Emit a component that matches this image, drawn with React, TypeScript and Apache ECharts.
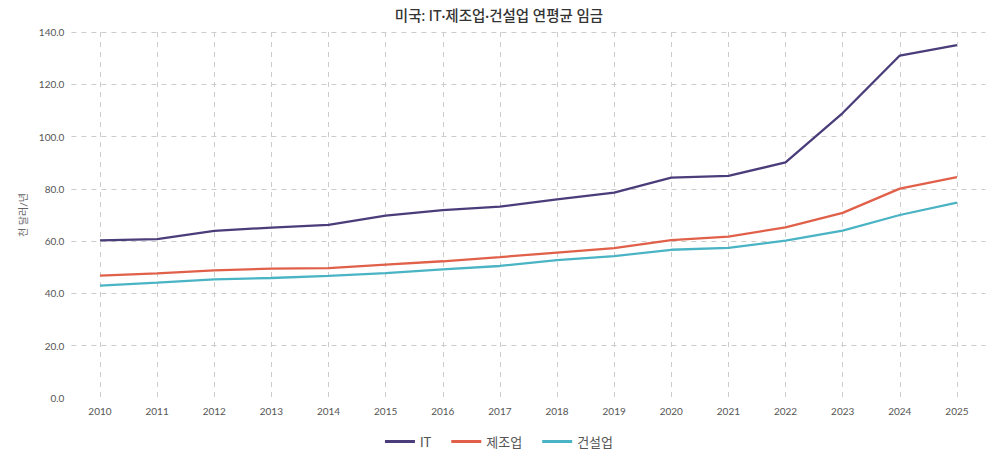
import React, { useEffect, useRef } from 'react';
import * as echarts from 'echarts';

const years = ['2010', '2011', '2012', '2013', '2014', '2015', '2016', '2017', '2018', '2019', '2020', '2021', '2022', '2023', '2024', '2025'];
const itWage = [60.3, 60.8, 63.9, 65.2, 66.2, 69.8, 71.9, 73.2, 76.0, 78.6, 84.3, 85.0, 90.1, 109.0, 131.0, 135.0];
const mfgWage = [46.8, 47.7, 48.8, 49.5, 49.7, 51.0, 52.3, 53.9, 55.6, 57.3, 60.4, 61.7, 65.3, 70.8, 80.1, 84.5];
const conWage = [43.0, 44.1, 45.4, 45.9, 46.7, 47.8, 49.2, 50.5, 52.7, 54.3, 56.7, 57.4, 60.2, 64.0, 70.0, 74.7];

const FONT = 'Lato, "Noto Sans CJK KR", sans-serif';

export default function App() {
  const chartRef = useRef<HTMLDivElement>(null);

  useEffect(() => {
    if (!chartRef.current) return;
    const chart = echarts.init(chartRef.current, null, { renderer: 'svg' });

    const line = (name: string, data: number[], color: string) => ({
      name,
      type: 'line',
      data,
      showSymbol: false,
      lineStyle: { width: 2.3, color },
      itemStyle: { color },
    });

    chart.setOption({
      animation: false,
      textStyle: { fontFamily: FONT },
      title: {
        text: '미국: IT·제조업·건설업 연평균 임금',
        left: 'center',
        top: -5,
        textStyle: { fontSize: 14.5, fontWeight: 500, color: '#333', fontFamily: FONT },
      },
      legend: {
        bottom: 2,
        left: 'center',
        icon: 'rect',
        itemWidth: 30,
        itemHeight: 3,
        itemGap: 20,
        textStyle: { fontSize: 13, color: '#555', fontFamily: FONT },
      },
      grid: { left: 63.4, right: 4.5, top: 24, bottom: 57 },
      xAxis: {
        type: 'category',
        data: years,
        boundaryGap: true,
        axisLine: { show: false },
        axisTick: { show: false, alignWithLabel: true },
        axisLabel: { color: '#555', fontSize: 10, margin: 8 },
        splitLine: { show: true, alignWithLabel: true, lineStyle: { type: [5, 5], color: '#ccc' } },
      },
      yAxis: {
        type: 'value',
        min: 0,
        max: 140,
        interval: 20,
        name: '천 달러/년',
        nameLocation: 'middle',
        nameGap: 43,
        nameTextStyle: { fontSize: 10, color: '#666' },
        axisLine: { show: false },
        axisTick: { show: false },
        axisLabel: { color: '#555', fontSize: 10, margin: 7, formatter: (v: number) => v.toFixed(1) },
        splitLine: { show: true, showMinLine: false, lineStyle: { type: [5, 5], color: '#ccc' } },
      },
      series: [
        line('IT', itWage, '#4a3d7a'),
        line('제조업', mfgWage, '#e0604a'),
        line('건설업', conWage, '#4ab4c4'),
      ],
    });

    return () => chart.dispose();
  }, []);

  return <div ref={chartRef} style={{ width: 982, height: 447 }} />;
}
